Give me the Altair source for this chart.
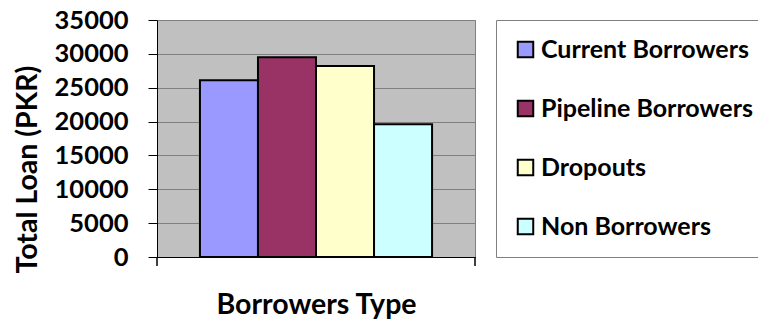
import altair as alt
import pandas as pd

categories = ["Current Borrowers", "Pipeline Borrowers", "Dropouts", "Non Borrowers"]
values = [26100, 29500, 28200, 19600]
colors = ["#9999FF", "#993366", "#FFFFCC", "#CCFFFF"]
y_ticks = [0, 5000, 10000, 15000, 20000, 25000, 30000, 35000]

df = pd.DataFrame({"Type": categories, "Loan": values})

FONT = "Lato"
W, H = 318, 237

bars = alt.Chart(df).mark_bar(stroke="black", strokeWidth=2).encode(
    x=alt.X(
        "Type:N",
        sort=categories,
        scale=alt.Scale(paddingInner=0, paddingOuter=0.74),
        axis=alt.Axis(
            title="Borrowers Type",
            labels=False,
            ticks=False,
            domainColor="black",
            domainWidth=1,
            titleFont=FONT,
            titleFontSize=28.5,
            titleFontWeight="bold",
            titleColor="black",
            titleBaseline="alphabetic",
            titleY=56,
        ),
    ),
    y=alt.Y(
        "Loan:Q",
        scale=alt.Scale(domain=[0, 35000], nice=False),
        axis=alt.Axis(
            title="Total Loan (PKR)",
            values=y_ticks,
            format="d",
            grid=True,
            gridColor="#808080",
            gridWidth=1,
            domainColor="black",
            domainWidth=1,
            tickColor="black",
            tickSize=9,
            labelPadding=20,
            labelFont=FONT,
            labelFontSize=25.5,
            labelFontWeight="bold",
            labelColor="black",
            labelBaseline="middle",
            titleFont=FONT,
            titleFontSize=28.5,
            titleFontWeight="bold",
            titleColor="black",
            titleAngle=270,
            titleAlign="center",
            titleBaseline="middle",
            titleX=-130,
            titleY=149,
        ),
    ),
    color=alt.Color(
        "Type:N",
        sort=categories,
        scale=alt.Scale(domain=categories, range=colors),
        legend=alt.Legend(
            title=None,
            orient="none",
            legendX=339,
            legendY=0,
            symbolType="square",
            symbolSize=240,
            symbolStrokeColor="black",
            symbolStrokeWidth=2,
            labelFont=FONT,
            labelFontSize=25,
            labelFontWeight="bold",
            labelColor="black",
            labelOffset=3,
            labelLimit=400,
            rowPadding=33,
            padding=17,
            strokeColor="#808080",
            fillColor="white",
        ),
    ),
)

edge_ticks = alt.Chart(pd.DataFrame({"e": [0, 1]})).mark_rule(color="black", strokeWidth=1).encode(
    x=alt.value(0), y=alt.value(H), y2=alt.value(H + 9)
)
edge_ticks2 = alt.Chart(pd.DataFrame({"e": [0, 1]})).mark_rule(color="black", strokeWidth=1).encode(
    x=alt.value(W), y=alt.value(H), y2=alt.value(H + 9)
)

chart = alt.layer(bars, edge_ticks, edge_ticks2).properties(
    width=W,
    height=H,
    autosize=alt.AutoSizeParams(type="none"),
    padding={"left": 157, "top": 20, "right": 283, "bottom": 64},
    background="white",
).configure_view(fill="#C0C0C0", stroke="#808080", strokeWidth=1)

chart.save("out.html", embed_options={"renderer": "svg", "actions": False})
